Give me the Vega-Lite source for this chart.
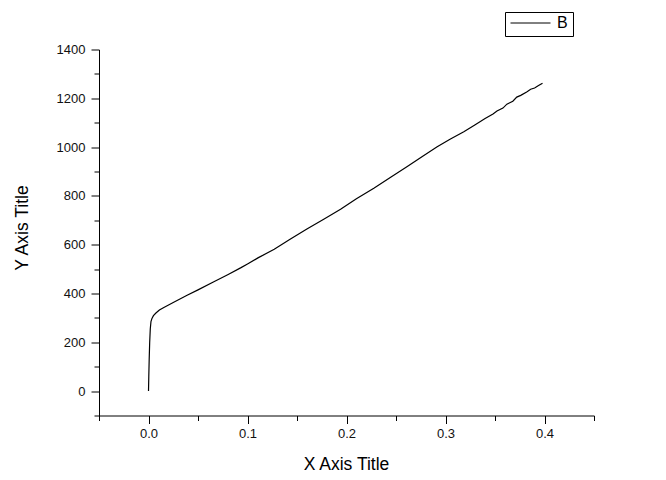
{
  "$schema": "https://vega.github.io/schema/vega-lite/v6.json",
  "width": 495,
  "height": 366,
  "autosize": {"type": "none"},
  "padding": {"left": 99, "top": 49.5, "right": 72, "bottom": 64.5},
  "background": "white",
  "config": {
    "font": "Liberation Sans",
    "view": {"stroke": null},
    "axis": {"grid": false, "domainColor": "black", "tickColor": "black", "labelColor": "#111111", "titleColor": "black", "labelFont": "Liberation Sans", "titleFont": "Liberation Sans", "titleFontWeight": "normal"}
  },
  "data": {
    "values": [
      {"x": 0.0, "y": 0, "series": "B"},
      {"x": 0.0003, "y": 60, "series": "B"},
      {"x": 0.0007, "y": 130, "series": "B"},
      {"x": 0.0012, "y": 200, "series": "B"},
      {"x": 0.0018, "y": 255, "series": "B"},
      {"x": 0.0025, "y": 285, "series": "B"},
      {"x": 0.0035, "y": 298, "series": "B"},
      {"x": 0.005, "y": 309, "series": "B"},
      {"x": 0.0075, "y": 320, "series": "B"},
      {"x": 0.011, "y": 332, "series": "B"},
      {"x": 0.0155, "y": 343, "series": "B"},
      {"x": 0.025, "y": 363, "series": "B"},
      {"x": 0.039, "y": 393, "series": "B"},
      {"x": 0.05, "y": 415, "series": "B"},
      {"x": 0.066, "y": 448, "series": "B"},
      {"x": 0.08, "y": 477, "series": "B"},
      {"x": 0.093, "y": 505, "series": "B"},
      {"x": 0.1, "y": 521, "series": "B"},
      {"x": 0.111, "y": 547, "series": "B"},
      {"x": 0.127, "y": 581, "series": "B"},
      {"x": 0.143, "y": 622, "series": "B"},
      {"x": 0.16, "y": 664, "series": "B"},
      {"x": 0.177, "y": 704, "series": "B"},
      {"x": 0.194, "y": 745, "series": "B"},
      {"x": 0.21, "y": 788, "series": "B"},
      {"x": 0.2276, "y": 831, "series": "B"},
      {"x": 0.245, "y": 877, "series": "B"},
      {"x": 0.261, "y": 919, "series": "B"},
      {"x": 0.2766, "y": 961, "series": "B"},
      {"x": 0.2916, "y": 1001, "series": "B"},
      {"x": 0.305, "y": 1033, "series": "B"},
      {"x": 0.3185, "y": 1063, "series": "B"},
      {"x": 0.33, "y": 1092, "series": "B"},
      {"x": 0.34, "y": 1117, "series": "B"},
      {"x": 0.348, "y": 1136, "series": "B"},
      {"x": 0.352, "y": 1148, "series": "B"},
      {"x": 0.358, "y": 1160, "series": "B"},
      {"x": 0.362, "y": 1176, "series": "B"},
      {"x": 0.368, "y": 1188, "series": "B"},
      {"x": 0.372, "y": 1205, "series": "B"},
      {"x": 0.376, "y": 1212, "series": "B"},
      {"x": 0.382, "y": 1226, "series": "B"},
      {"x": 0.386, "y": 1237, "series": "B"},
      {"x": 0.39, "y": 1242, "series": "B"},
      {"x": 0.394, "y": 1252, "series": "B"},
      {"x": 0.398, "y": 1262, "series": "B"}
    ]
  },
  "mark": {"type": "line", "strokeWidth": 1.2, "interpolate": "linear"},
  "encoding": {
    "x": {
      "field": "x", "type": "quantitative",
      "scale": {"domain": [-0.05, 0.45], "nice": false, "zero": false},
      "axis": {
        "title": "X Axis Title",
        "values": [-0.05, 0, 0.05, 0.1, 0.15, 0.2, 0.25, 0.3, 0.35, 0.4, 0.45],
        "format": ".1f",
        "labelExpr": "abs(datum.value*10 - round(datum.value*10)) < 0.001 ? datum.label : ''",
        "tickSize": {"condition": {"test": "abs(datum.value*10 - round(datum.value*10)) < 0.001", "value": 8}, "value": 5},
        "labelFontSize": 13,
        "labelPadding": 4,
        "labelFlush": false,
        "titleFontSize": 17.5,
        "titleBaseline": "alphabetic",
        "titleY": 54,
        "titleX": 247
      }
    },
    "y": {
      "field": "y", "type": "quantitative",
      "scale": {"domain": [-100, 1400], "nice": false, "zero": false},
      "axis": {
        "title": "Y Axis Title",
        "values": [-100, 0, 100, 200, 300, 400, 500, 600, 700, 800, 900, 1000, 1100, 1200, 1300, 1400],
        "format": "d",
        "labelExpr": "datum.value % 200 === 0 ? datum.label : ''",
        "tickSize": {"condition": {"test": "datum.value % 200 === 0", "value": 8}, "value": 5},
        "labelFontSize": 13,
        "labelPadding": 6,
        "labelFlush": false,
        "titleFontSize": 17.5,
        "titleBaseline": "alphabetic",
        "titleAngle": -90,
        "titleX": -72,
        "titleY": 178,
        "titleAlign": "center"
      }
    },
    "color": {
      "field": "series", "type": "nominal",
      "scale": {"domain": ["B"], "range": ["black"]},
      "legend": {
        "title": null,
        "orient": "none",
        "legendX": 406,
        "legendY": -37.5,
        "symbolType": "stroke",
        "symbolSize": 1600,
        "symbolStrokeWidth": 1,
        "symbolStrokeColor": "black",
        "clipHeight": 12,
        "labelFontSize": 16,
        "labelColor": "black",
        "labelOffset": 6,
        "padding": 5,
        "strokeColor": "black",
        "fillColor": "white"
      }
    }
  }
}
